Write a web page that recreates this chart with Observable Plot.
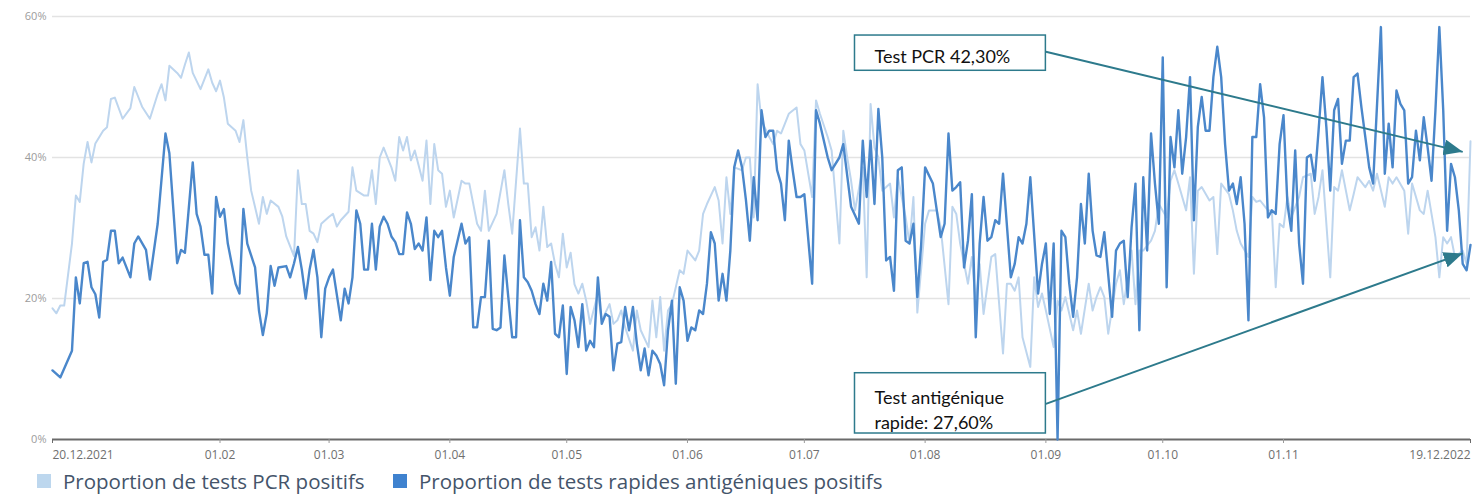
<!DOCTYPE html>
<html>
<head>
<meta charset="utf-8">
<script src="https://cdn.jsdelivr.net/npm/d3@7"></script>
<script src="https://cdn.jsdelivr.net/npm/@observablehq/plot@0.6"></script>
<style>
  body { margin: 0; background: #fff; font-family: "Open Sans", sans-serif; }
  #chart { position: relative; width: 1472px; height: 495px; overflow: hidden; }
  .legend { position: absolute; top: 467px; left: 0; width: 1472px; height: 28px; }
  .item { position: absolute; top: 0; height: 28px; line-height: 28px; display: flex; align-items: center;
          font-family: "Open Sans", sans-serif; font-size: 20.5px; color: #44546a; white-space: nowrap; }
  .sw { width: 14px; height: 14px; margin-right: 12px; flex: none; }
</style>
</head>
<body>
<div id="chart"></div>
<script>
// ---- DATA ----
const startDate = "2021-12-20"; // day 0

const seriesNames = [
  "Proportion de tests PCR positifs",
  "Proportion de tests rapides antigéniques positifs"
];

// PCR: days since 20.12.2021 and % positive
const pcrDays = [0,1,2,3,5,6,7,8,9,10,11,13,14,15,16,18,20,21,23,25,27,28,29,30,32,33,34,35,36,38,40,41,42,43,44,45,47,48,49,50,51,53,54,55,56,58,59,60,62,63,64,65,66,67,68,69,71,72,73,74,76,77,78,80,81,82,83,84,85,87,88,89,90,91,92,93,95,96,97,98,99,100,101,102,103,105,106,107,109,110,111,112,114,116,117,118,120,121,122,123,124,125,126,127,128,129,130,131,132,133,134,135,136,137,138,140,141,143,144,145,146,147,149,150,151,153,154,155,156,157,158,159,161,162,163,165,166,167,168,170,171,172,173,174,175,177,178,179,180,181,182,184,185,186,187,189,191,192,193,195,196,197,199,200,202,203,204,205,206,208,209,210,211,212,213,215,216,217,218,219,220,221,222,224,225,227,228,230,231,232,233,235,236,237,238,239,241,242,244,245,246,247,248,249,251,252,253,254,255,257,258,259,260,262,263,264,266,267,268,269,270,271,273,274,275,277,278,279,280,282,283,284,286,287,288,289,291,292,293,294,295,297,298,299,300,302,303,304,305,307,308,309,310,312,313,314,315,316,317,318,320,321,323,324,325,326,328,329,330,331,333,334,335,337,338,339,340,342,343,344,345,347,348,349,351,352,353,355,356,357,358,359,360,362,363,364];
const pcrValues = [18.6,17.9,19,19,27.8,34.6,33.7,39.1,42.2,39.3,42,43.8,44.3,48.3,48.5,45.5,47,50,47.2,45.5,49,50.4,48.1,53,52,51.3,53.2,54.9,52,49.7,52.5,50.6,49.4,50.9,48.5,44.8,43.8,42.2,45.3,40,35.3,30.6,34.4,32,33.9,33,31.6,28.8,26,38.2,33.4,33.4,29.6,29.2,28,30.6,31.6,32,30.2,31.1,32.3,38.6,35.3,34.6,34.6,38.2,33.4,40,41.4,38.6,36.7,42.9,41,42.9,39.6,41,36.7,42.4,33.4,41.9,38.2,37.7,33,35.3,31.5,36.7,36.3,36.3,30.6,29.6,35.3,29.6,32,38.2,33.4,29.2,44.1,36.3,36.3,28.7,30.1,26.8,33,27.3,27.8,24.9,23,29.2,24.4,26.5,22,20.7,22.1,19.7,16.4,20.7,16.9,19.2,16.4,16.9,18.3,15.9,12.6,18.3,15.5,13.1,19.7,14.5,20.2,12.6,18.3,19.2,24,23.5,26.8,25.4,26.8,32,33.4,35.8,33.9,27.8,37.2,32,38.6,38.2,40,40,31.5,50.4,45.2,42.9,41.9,43.8,43.4,46.2,47.1,41.9,41,34.4,48.1,46.2,42.9,41,27.8,43.8,40,36.7,32.5,38.6,23,47.6,41.4,40,35.3,36.3,31.5,37.2,34.4,31.5,27.8,34.4,18,30.6,32.5,32.5,30.1,19.2,33,32,27.8,22.1,25.9,19.2,24.9,17.8,25.9,26.3,12.2,22.1,22.1,21.1,23,14.5,10.3,23,18.8,20.7,18.3,13.1,19.7,18.3,20.2,15.5,18.3,15,22.1,18.3,20.2,21.6,20.2,15,22.1,24,19.2,26.8,19.2,26.8,26.8,28.2,29.6,33.4,31.5,36.7,38.2,36.3,32.5,37.2,23.5,35.3,35.8,33.9,34.4,26.3,36.3,34.8,32.5,29.6,27.8,25.9,34.4,33.7,33.9,32.5,32.5,21.6,30.6,30.1,34.4,31.5,34.4,37.2,37.7,32,34.4,38.2,23,35.8,35.3,38.2,32.5,34.8,37.2,35.8,36.7,35.3,37.7,33,37.2,36.3,37.2,35.3,29.2,36.3,32.5,32,35.3,28.7,23,28.7,27.8,28.7,25.9,26.8,24.9,42.3];

// Rapid antigen tests: days since 20.12.2021 and % positive
const ragDays = [0,2,5,6,7,8,9,10,11,12,13,14,15,16,17,18,20,21,22,24,25,27,29,30,32,33,34,36,37,38,39,40,41,42,43,44,45,47,48,49,50,52,53,54,55,56,57,58,60,61,62,63,64,65,66,67,68,69,70,71,72,74,75,76,77,78,79,80,81,82,83,84,85,86,87,88,89,90,91,92,93,94,95,96,97,98,99,100,101,102,103,105,106,107,108,109,110,111,112,113,114,115,116,117,118,119,120,121,122,123,124,125,126,127,128,129,130,131,132,133,134,135,136,137,138,139,140,141,142,143,144,145,146,147,148,149,150,151,152,153,154,155,156,157,158,159,160,161,162,163,164,165,166,167,168,169,170,171,172,173,174,175,176,177,178,179,180,181,182,183,184,185,186,187,188,189,190,191,192,193,195,196,197,199,200,202,203,205,207,208,209,210,211,212,213,214,215,216,217,218,219,220,221,222,223,224,226,228,229,230,231,232,233,234,235,236,237,238,239,240,241,242,243,244,246,247,248,249,250,251,253,254,255,256,257,258,259,260,261,262,263,264,265,266,267,268,269,270,272,273,274,275,276,277,278,279,280,281,282,283,284,285,286,287,288,289,290,291,292,293,294,295,296,297,298,299,300,301,302,303,304,305,306,307,308,309,310,311,312,313,314,315,316,317,318,319,320,321,322,323,324,325,326,327,328,329,330,331,332,333,334,335,336,337,338,339,341,342,343,344,345,346,347,348,349,350,351,352,353,354,355,356,357,358,359,360,361,362,363,364];
const ragValues = [9.8,8.8,12.6,23,19.3,25,25.2,21.6,20.6,17.3,25.2,25.5,29.6,29.6,25,25.8,23,27.8,28.8,26.9,22.7,30.6,43.4,40.6,25,26.9,26.5,39.3,32,30.2,26.2,26.2,20.7,34.4,31.6,32.7,27.8,22.1,20.7,32.7,27.8,24.4,18.3,14.8,17.9,24.6,21.8,24.4,24.6,23,25,27.3,24.1,20,24.1,26.9,23,14.5,21.4,23,24.1,16.9,21.4,19.3,23,32.5,30.6,24.1,24.1,30.6,24.1,30.2,31.6,30.6,28.8,28,26.3,26.3,32.2,30.6,27,27.8,26.8,31.5,22.6,29.6,28.7,29.6,24.4,20.4,25.9,30.6,27.8,28.7,15.9,15.9,20.2,20.2,28.2,15.7,15.5,15.9,26.1,20.2,14.5,14.5,31.1,23,22.3,21.1,19.2,17.8,22.1,19.7,25.2,15,14.5,19,9.3,18.8,16.9,13.1,19.2,12.6,14,13.1,23,16.4,17.8,17.4,9.8,13.6,13.8,18.8,15.5,18.8,13.6,9.8,12.9,9.1,12.6,11.9,10.7,7.7,15.5,19.7,7.9,21.6,19.7,14,15.9,15.5,18.3,17.8,22.1,29.4,27.8,19.7,23.5,19.7,26.8,38.6,41,38.6,34,28.2,37.2,31.1,46.7,42.9,43.8,43.8,38.2,36.3,31.1,42.4,38.2,34.4,34.4,34.8,22.1,46.7,44.8,40,38.2,40,41.9,33,30.6,42.4,34.4,42.4,33.4,46.9,40,25.4,25.9,21.1,38.2,38.6,28.2,27.8,30.6,20.2,27.8,38.6,36.3,28.7,30.6,43.4,35.3,35.8,36.5,24.4,28.2,34.8,14.5,27.8,34.4,28.2,28.7,31.1,30.6,37.7,23,24.9,28.7,27.8,30.6,37.2,20.7,24.9,27.8,17.8,27.8,0,29.6,28.7,22.1,17.4,23,33.4,27.8,37.7,29.6,26.1,25.9,29.4,17.4,26.8,27.8,28.2,20.2,30.1,36.3,15.5,37.2,26.8,43.4,36.3,30.6,54.2,21.6,42.9,38.6,46.7,37.7,42.9,51.4,31.1,44.3,48.6,43.8,43.8,51.4,55.7,51.4,41.9,35.3,36.3,33.4,37.2,30.6,16.9,42.9,42.9,50.4,45.7,31.5,32.5,32,41.9,46,33.4,29.6,41,27.8,22.1,40,40.4,36.7,43.8,51.4,44.3,35.3,46.7,48.3,39.1,42.4,42.4,51.4,51.9,47.1,42.9,38.6,36.3,58.5,37.7,44.8,38.6,49.5,47.6,46.7,36.3,37.2,43.8,39.6,45.7,41.4,36.7,46.7,58.5,46.7,29.6,39.1,37.2,32.5,24.9,24,27.6];

// Axis ticks
const xTickDates = ["2021-12-20","2022-02-01","2022-03-01","2022-04-01","2022-05-01","2022-06-01","2022-07-01","2022-08-01","2022-09-01","2022-10-01","2022-11-01","2022-12-19"];
const xTickLabels = ["20.12.2021","01.02","01.03","01.04","01.05","01.06","01.07","01.08","01.09","01.10","01.11","19.12.2022"];
const yTicks = [0, 20, 40, 60];

// Annotations (callouts)
const calloutTexts = ["Test PCR 42,30%", "Test antigénique\nrapide: 27,60%"];

// ---- BUILD ----
const parse = d3.utcParse("%Y-%m-%d");
const start = parse(startDate);
const day = n => d3.utcDay.offset(start, n);
const pcr = pcrDays.map((d, i) => ({date: day(d), value: pcrValues[i]}));
const rag = ragDays.map((d, i) => ({date: day(d), value: ragValues[i]}));
const ticks = xTickDates.map(parse);
const labelOf = new Map(ticks.map((t, i) => [+t, xTickLabels[i]]));

const colPCR = "#bdd5ee", colRAG = "#4a87cb", teal = "#2d7a8c";

const boxes = [
  {x1: parse("2022-07-14"), x2: parse("2022-09-01"), y1: 52.3, y2: 57.3},
  {x1: parse("2022-07-14"), x2: parse("2022-09-01"), y1: 0.85, y2: 9.4}
];
const labels = [
  {x: parse("2022-07-19"), y: 54.5, text: calloutTexts[0]},
  {x: parse("2022-07-19"), y: 4.4, text: calloutTexts[1]}
];
const arrows = [
  {x1: parse("2022-09-01"), y1: 55.0, x2: parse("2022-12-17"), y2: 40.8},
  {x1: parse("2022-09-01"), y1: 5.06, x2: parse("2022-12-17"), y2: 26.4}
];

const chart = Plot.plot({
  width: 1472,
  height: 467,
  marginLeft: 52,
  marginRight: 2,
  marginTop: 16,
  marginBottom: 28,
  style: {fontFamily: "Open Sans, sans-serif", background: "#fff"},
  x: {type: "utc", domain: [start, day(364)], label: null},
  y: {domain: [0, 60], label: null},
  marks: [
    Plot.gridY(yTicks.slice(1), {stroke: "#e3e3e3", strokeOpacity: 1, strokeWidth: 1.5}),
    Plot.axisY(yTicks, {tickFormat: d => d + "%", tickSize: 0, tickPadding: 6, fontSize: 11, fill: "#9c9c9c", label: null}),
    Plot.ruleY([0], {stroke: "#6a6a6a", strokeWidth: 2}),
    Plot.axisX(ticks.slice(0, 1), {tickFormat: d => labelOf.get(+d), tickSize: 4, tickPadding: 7, fontSize: 12, fill: "#6f6f6f", stroke: "#6a6a6a", textAnchor: "start", label: null}),
    Plot.axisX(ticks.slice(1, -1), {tickFormat: d => labelOf.get(+d), tickSize: 4, tickPadding: 7, fontSize: 12, fill: "#6f6f6f", stroke: "#9a9a9a", label: null}),
    Plot.axisX(ticks.slice(-1), {tickFormat: d => labelOf.get(+d), tickSize: 4, tickPadding: 7, fontSize: 12, fill: "#6f6f6f", stroke: "#6a6a6a", textAnchor: "end", label: null}),
    Plot.line(pcr, {x: "date", y: "value", stroke: colPCR, strokeWidth: 2}),
    Plot.line(rag, {x: "date", y: "value", stroke: colRAG, strokeWidth: 2.4, strokeLinejoin: "round"}),
    Plot.rect(boxes, {x1: "x1", x2: "x2", y1: "y1", y2: "y2", fill: "white", stroke: teal, strokeWidth: 1.5}),
    Plot.text(labels, {x: "x", y: "y", text: "text", textAnchor: "start", lineAnchor: "middle", fontSize: 18, lineHeight: 1.38, fill: "#111", fontFamily: "Lato, sans-serif"}),
    Plot.link(arrows, {x1: "x1", y1: "y1", x2: "x2", y2: "y2", stroke: teal, strokeWidth: 2})
  ]
});

// filled arrowheads on the callout links
const svg = d3.select(chart);
const defs = svg.insert("defs", ":first-child");
defs.append("marker")
  .attr("id", "ahead")
  .attr("markerUnits", "userSpaceOnUse")
  .attr("markerWidth", 20).attr("markerHeight", 16)
  .attr("refX", 19).attr("refY", 8)
  .attr("orient", "auto")
  .append("path").attr("d", "M0,0 L19,8 L0,16 Z").attr("fill", teal);
svg.selectAll('g[aria-label="link"] path').attr("marker-end", "url(#ahead)");

const root = document.getElementById("chart");
root.appendChild(chart);

// legend below the SVG
const legend = document.createElement("div");
legend.className = "legend";
const items = [{name: seriesNames[0], color: "#bdd7ee", left: 37}, {name: seriesNames[1], color: "#3f82cf", left: 393}];
for (const it of items) {
  const el = document.createElement("div");
  el.className = "item";
  el.style.left = it.left + "px";
  const sw = document.createElement("span");
  sw.className = "sw";
  sw.style.background = it.color;
  const tx = document.createElement("span");
  tx.textContent = it.name;
  el.appendChild(sw); el.appendChild(tx);
  legend.appendChild(el);
}
root.appendChild(legend);
</script>
</body>
</html>
